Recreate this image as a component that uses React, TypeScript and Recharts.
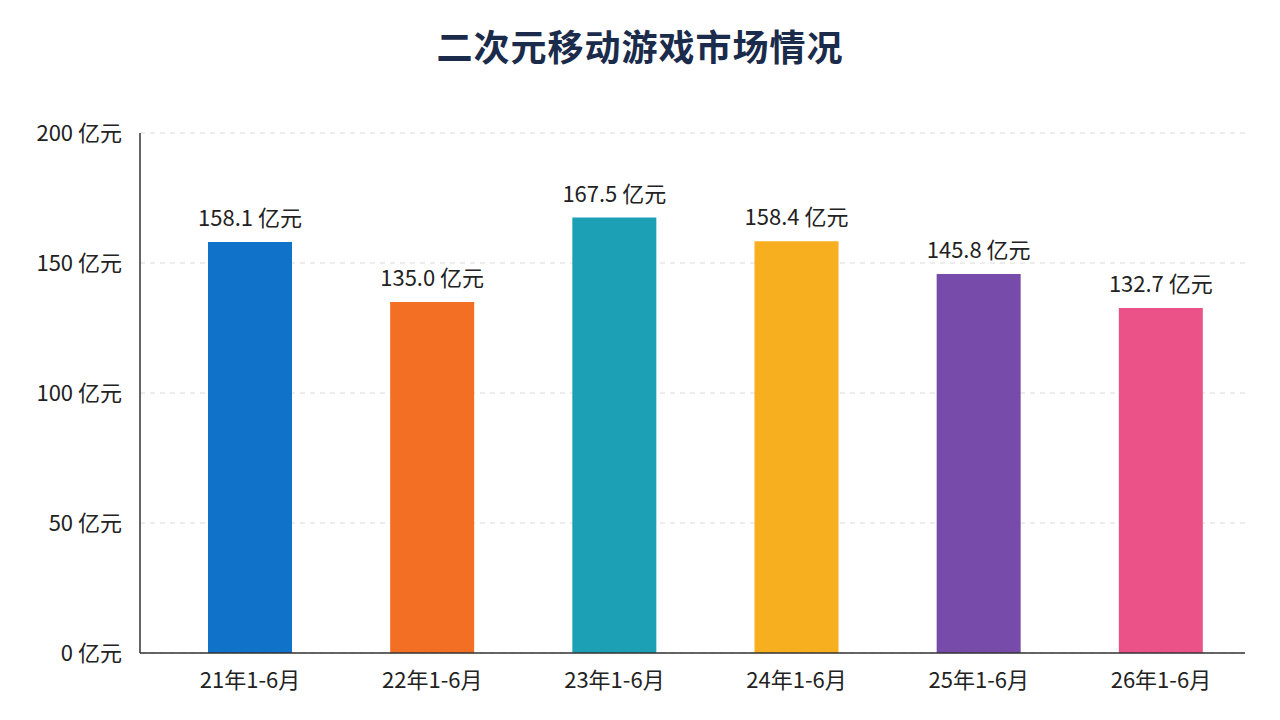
import React from 'react';
import { BarChart, Bar, XAxis, YAxis, CartesianGrid, Cell, LabelList } from 'recharts';

const categories = ['21年1-6月', '22年1-6月', '23年1-6月', '24年1-6月', '25年1-6月', '26年1-6月'];
const revenue = [158.1, 135.0, 167.5, 158.4, 145.8, 132.7];
const yTicks = [0, 50, 100, 150, 200];

const barColors = ['#1172C9', '#F36F24', '#1BA0B6', '#F8AF1F', '#774BAA', '#EB5287'];

const FONT = '"Noto Sans CJK SC", "Noto Sans", sans-serif';

const data = categories.map((name, i) => ({ name, value: revenue[i] }));

const formatValue = (v: number) => `${v.toFixed(1)} 亿元`;
const formatTick = (v: number) => `${v} 亿元`;

export default function App() {
  return (
    <div style={{ position: 'absolute', left: 0, top: 0, width: 1280, height: 720, background: '#fff', fontFamily: FONT }}>
      <div
        style={{
          position: 'absolute',
          left: 0,
          top: 19,
          width: 1280,
          textAlign: 'center',
          fontSize: 36,
          fontWeight: 700,
          color: '#1B2B4B',
          letterSpacing: 1,
        }}
      >
        二次元移动游戏市场情况
      </div>
      <BarChart width={1280} height={720} data={data} margin={{ top: 133, right: 35, bottom: 37, left: 0 }}>
        <CartesianGrid vertical={false} stroke="#DADADA" strokeDasharray="5 5" />
        <XAxis
          dataKey="name"
          height={30}
          padding={{ left: 19, right: -7 }}
          tickLine={false}
          tickSize={0}
          tickMargin={19}
          axisLine={{ stroke: '#333', strokeWidth: 1.5 }}
          tick={{ fontSize: 22, fill: '#222', fontFamily: FONT }}
        />
        <YAxis
          width={140}
          domain={[0, 200]}
          ticks={yTicks}
          tickFormatter={formatTick}
          tickLine={false}
          tickSize={0}
          tickMargin={18}
          axisLine={{ stroke: '#333', strokeWidth: 1.5 }}
          tick={{ fontSize: 22, fill: '#222', fontFamily: FONT }}
        />
        <Bar dataKey="value" barSize={84} isAnimationActive={false}>
          {data.map((d, i) => (
            <Cell key={d.name} fill={barColors[i]} />
          ))}
          <LabelList
            dataKey="value"
            position="top"
            offset={16}
            formatter={(v: any) => formatValue(Number(v))}
            style={{ fontSize: 22, fill: '#222', fontFamily: FONT }}
          />
        </Bar>
      </BarChart>
    </div>
  );
}
